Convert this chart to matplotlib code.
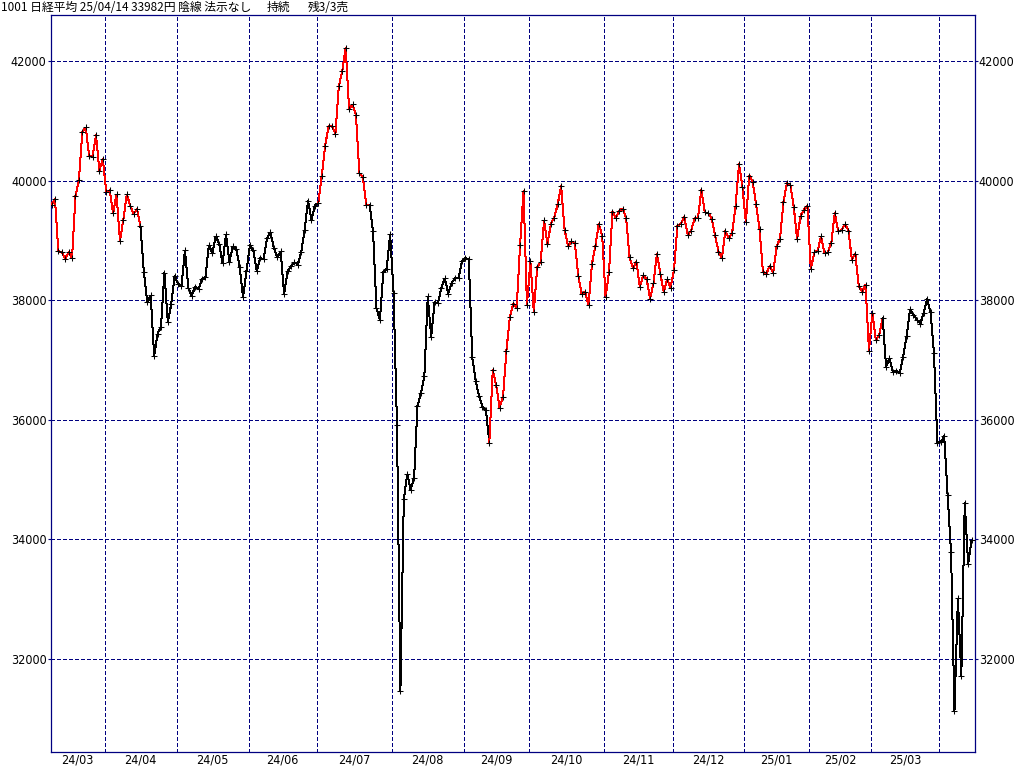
import matplotlib
matplotlib.use("Agg")
import matplotlib.pyplot as plt
from matplotlib.collections import LineCollection
import numpy as np

# ---------------- data ----------------
month_labels = ["24/03", "24/04", "24/05", "24/06", "24/07", "24/08", "24/09",
                "24/10", "24/11", "24/12", "25/01", "25/02", "25/03", "25/04"]
show_label = [True] * 13 + [False]

close_2403 = [39599, 39689, 38820, 38798, 38696, 38807, 38708, 39740, 40004, 40816,
              40888, 40414, 40398, 40763, 40168, 40369]
close_2404 = [39803, 39839, 39452, 39773, 38992, 39347, 39773, 39582, 39443, 39524,
              39233, 38471, 37962, 38080, 37068, 37439, 37552, 38460, 37628, 37935, 38406]
close_2405 = [38274, 38236, 38835, 38202, 38074, 38229, 38179, 38356, 38386, 38920,
              38787, 39070, 38947, 38617, 39103, 38646, 38900, 38855, 38557, 38054, 38488]
close_2406 = [38923, 38837, 38490, 38704, 38684, 39038, 39135, 38877, 38720, 38815,
              38102, 38482, 38571, 38633, 38596, 38805, 39173, 39667, 39342, 39583]
close_2407 = [39631, 40075, 40581, 40914, 40912, 40781, 41580, 41832, 42224, 41191,
              41275, 41098, 40126, 40064, 39599, 39594, 39155, 37870, 37667, 38469,
              38526, 39102]
close_2408 = [38126, 35910, 31458, 34675, 35090, 34831, 35025, 36233, 36442, 36727,
              38063, 37389, 37964, 37952, 38211, 38364, 38110, 38289, 38372, 38363, 38648]
close_2409 = [38701, 38686, 37048, 36657, 36391, 36216, 36159, 35620, 36833, 36582,
              36203, 36380, 37155, 37724, 37941, 37870, 38926, 39830, 37920]
close_2410 = [38652, 37809, 38552, 38636, 39333, 38938, 39278, 39381, 39606, 39911,
              39180, 38911, 38982, 38955, 38412, 38105, 38143, 37914, 38606, 38904,
              39277, 39081]
close_2411 = [38054, 38475, 39481, 39381, 39500, 39533, 39376, 38722, 38536, 38643,
              38221, 38414, 38352, 38026, 38284, 38780, 38442, 38135, 38349, 38208]
close_2412 = [38513, 39249, 39276, 39396, 39091, 39161, 39368, 39372, 39849, 39470,
              39457, 39365, 39082, 38814, 38702, 39161, 39037, 39130, 39568, 40281, 39895]
close_2501 = [39307, 40083, 39981, 39605, 39190, 38474, 38445, 38573, 38451, 38903,
              39028, 39646, 39959, 39932, 39566, 39017, 39415, 39514, 39572]
close_2502 = [38520, 38798, 38831, 39067, 38787, 38801, 38964, 39461, 39149, 39174,
              39270, 39165, 38678, 38777, 38238, 38142, 38256, 37156]
close_2503 = [37785, 37331, 37418, 37705, 36887, 37028, 36793, 36819, 36790, 37053,
              37397, 37845, 37752, 37677, 37608, 37781, 38027, 37800, 37120, 35618]
close_2504 = [35624, 35726, 34736, 33781, 31137, 33013, 31714, 34609, 33586, 33982]

monthly_closes = [close_2403, close_2404, close_2405, close_2406, close_2407, close_2408,
                  close_2409, close_2410, close_2411, close_2412, close_2501, close_2502,
                  close_2503, close_2504]

# point-index ranges whose connecting segments are drawn red (signal "on")
red_runs = [(0, 26), (78, 93), (128, 243)]

y_ticks = [32000, 34000, 36000, 38000, 40000, 42000]

title_main = "1001 日経平均 25/04/14 33982円 陰線 法示なし"
title_state = "持続"
title_pos = "残3/3売"

# ---------------- figure ----------------
W, H = 1024, 767
fig = plt.figure(figsize=(W / 100, H / 100), dpi=100, facecolor="white")


def px_rect(x0, y0, x1, y1):
    return [x0 / W, 1 - y1 / H, (x1 - x0) / W, (y1 - y0) / H]


ax = fig.add_axes(px_rect(50.5, 14.5, 975, 752))
navy = "#000080"

values = np.concatenate([np.asarray(m, dtype=float) for m in monthly_closes])
n = len(values)
xs = np.arange(n)

ax.set_xlim(-0.3, n - 0.0)
# y mapping: 42000 at y=61px, 2000 per 119.6 px
ppv = 119.6 / 2000.0
ax.set_ylim(42000 - (752 - 61) / ppv, 42000 + (61 - 14.5) / ppv)

dash = (0, (2.9, 2.2))

# horizontal grid
for v in y_ticks:
    ax.axhline(v, color=navy, lw=0.75, linestyle=dash, antialiased=False, zorder=1)

# month boundaries
counts = [len(m) for m in monthly_closes]
starts = np.concatenate([[0], np.cumsum(counts)[:-1]])
for s in starts[1:]:
    ax.axvline(s - 0.4, color=navy, lw=0.75, linestyle=dash, antialiased=False, zorder=1)

# colored line segments
pts = np.column_stack([xs, values])
segs = np.stack([pts[:-1], pts[1:]], axis=1)
seg_colors = ["black"] * (n - 1)
for a, b in red_runs:
    for i in range(a, b):
        seg_colors[i] = "red"
lc = LineCollection(segs, colors=seg_colors, linewidths=0.72, antialiaseds=False, zorder=3)
ax.add_collection(lc)

ax.plot(xs, values, linestyle="none", marker="+", markersize=3.8, markeredgewidth=0.75,
        color="black", zorder=4, antialiased=False)

# spines
for sp in ax.spines.values():
    sp.set_color(navy)
    sp.set_linewidth(0.9)

# y ticks both sides
lab_font = dict(family=["DejaVu Sans"], size=9, stretch="condensed")
ax.set_yticks(y_ticks)
ax.set_yticklabels([str(v) for v in y_ticks], fontdict=lab_font)
ax.tick_params(axis="y", which="both", direction="out", length=2.2, width=0.8,
               color=navy, labelcolor="black", left=True, right=True,
               labelleft=True, labelright=True, pad=0.6)
for t in ax.get_yticklabels(which="both"):
    t.set_fontstretch("condensed")
    t.set_fontsize(9)

# month labels
centers = [s + c / 2.0 - 0.5 for s, c in zip(starts, counts)]
tick_pos = [c for c, sh in zip(centers, show_label) if sh]
tick_lab = [l for l, sh in zip(month_labels, show_label) if sh]
ax.set_xticks(tick_pos)
ax.set_xticklabels(tick_lab, fontdict=lab_font)
ax.tick_params(axis="x", length=0, pad=1.2, labelcolor="black")

# title
tfam = ["Noto Sans CJK JP", "DejaVu Sans"]
fig.text(1 / W, 1 - 7.5 / H, title_main, fontsize=8.5, va="center", ha="left",
         family=tfam, color="black")
fig.text(267 / W, 1 - 7.5 / H, title_state, fontsize=8.5, va="center", ha="left",
         family=tfam, color="black")
fig.text(308 / W, 1 - 7.5 / H, title_pos, fontsize=8.5, va="center", ha="left",
         family=tfam, color="black")

fig.savefig("out.png", dpi=100, facecolor="white")
